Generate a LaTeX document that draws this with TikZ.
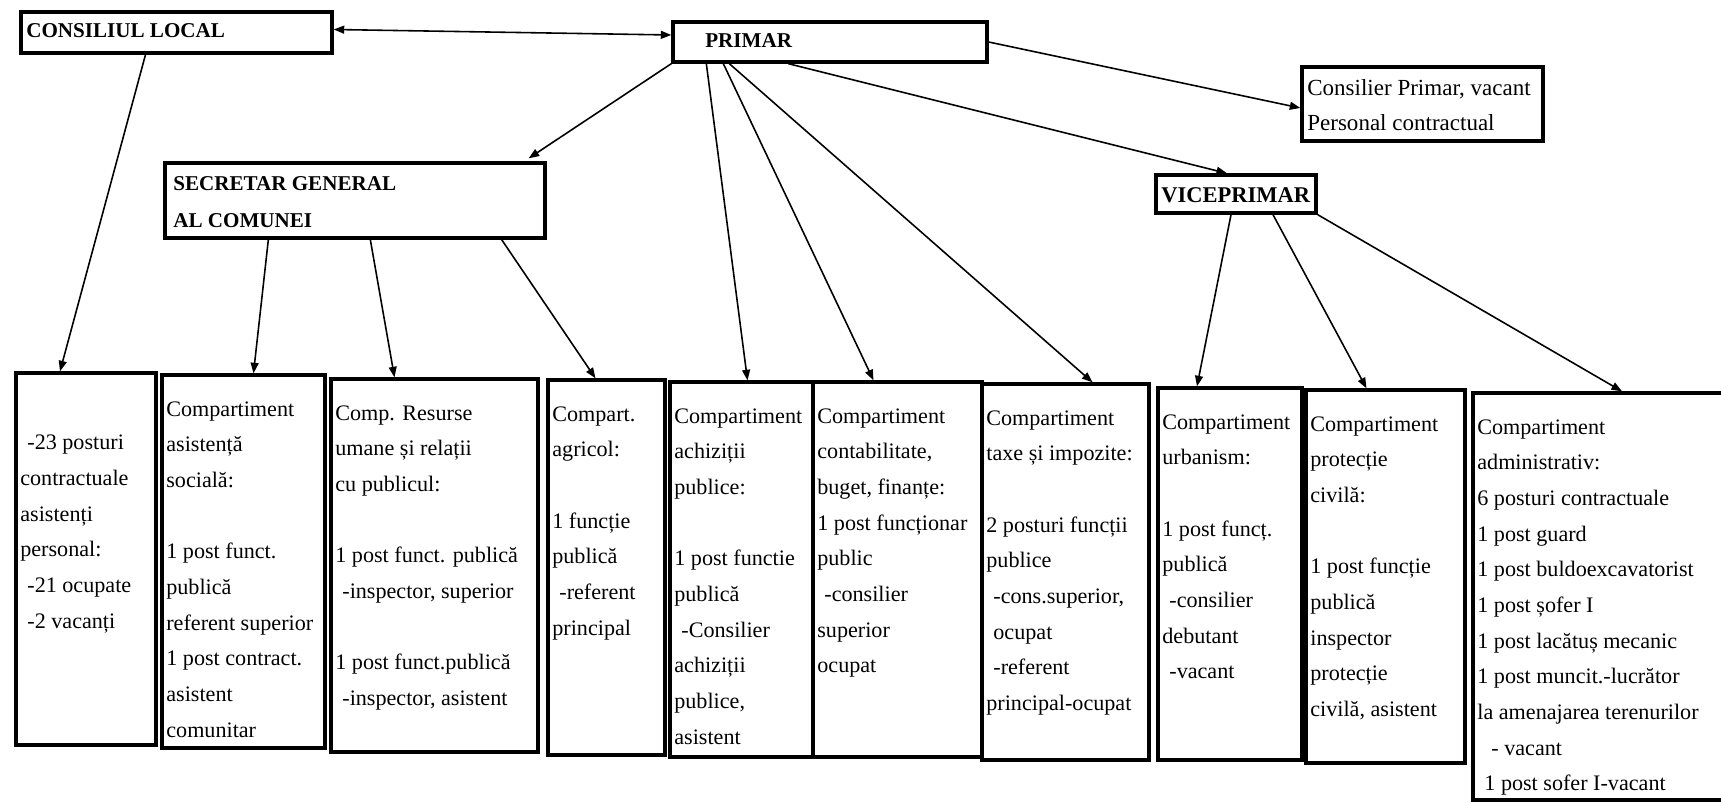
\documentclass[tikz,border=0pt]{standalone}
\usepackage{fontspec}
\setmainfont{Liberation Serif}
\usetikzlibrary{arrows.meta,calc,fit}
\newcommand{\blankline}{20.3pt}

\begin{document}
\begin{tikzpicture}[x=0.02cm,y=-0.02cm,>={Triangle[length=6pt,width=4.5pt]},
    boxframe/.style={draw,line width=1.9pt,inner sep=0pt},
    headtxt/.style={font=\fontsize{12}{21}\selectfont\bfseries,inner sep=0pt},
    bodytxt/.style={font=\fontsize{12.6}{20.3}\selectfont,inner sep=0pt,align=left,anchor=north west},
    link/.style={line width=0.9pt}]
    \clip (0,0) rectangle (1721,803);
    % conducere
    \node[boxframe,fit={(21,12) (332,53)}] (CL) {};
    \node[headtxt,anchor=base west] (CLt) at (26,38) {CONSILIUL LOCAL};
    \node[boxframe,fit={(673,22) (987,62)}] (PR) {};
    \node[headtxt,anchor=base west] (PRt) at (705,48) {PRIMAR};
    \node[boxframe,fit={(1302,67) (1543,141)}] (CP) {};
    \node[bodytxt,font=\fontsize{13.1}{20.3}\selectfont] (CPt) at (1307,70) {\strut Consilier Primar, vacant\\Personal contractual};
    \node[boxframe,fit={(165,163) (545,238)}] (SG) {};
    \node[headtxt,anchor=north west,align=left] (SGt) at (173,164) {\strut SECRETAR GENERAL\\AL COMUNEI};
    \node[boxframe,fit={(1156,175) (1316,213)}] (VP) {};
    \node[headtxt,anchor=base west,font=\fontsize{12.8}{21}\selectfont\bfseries] (VPt) at (1161,203) {VICEPRIMAR};
    % compartimente
    \node[boxframe,fit={(16,373) (156,745)}] (b1) {};
    \node[bodytxt] (b1t) at (20,389) {\strut\\\hspace*{4pt}-23 posturi\\contractuale\\asistenți\\personal:\\\hspace*{4pt}-21 ocupate\\\hspace*{4pt}-2 vacanți};
    \node[boxframe,fit={(162,375) (325,748)}] (b2) {};
    \node[bodytxt] (b2t) at (166,391) {\strut Compartiment\\asistență\\socială:\\[\blankline]1 post funct.\\publică\\referent superior\\1 post contract.\\asistent\\comunitar};
    \node[boxframe,fit={(331,379) (538,752)}] (b3) {};
    \node[bodytxt] (b3t) at (335,395) {\strut Comp. Resurse\\umane și relații\\cu publicul:\\[\blankline]1 post funct. publică\\\hspace*{4pt}-inspector, superior\\[\blankline]1 post funct.publică\\\hspace*{4pt}-inspector, asistent};
    \node[boxframe,fit={(548,380) (665,755)}] (b4) {};
    \node[bodytxt] (b4t) at (552,396) {\strut Compart.\\agricol:\\[\blankline]1 funcție\\publică\\\hspace*{4pt}-referent\\principal};
    \node[boxframe,fit={(670,382) (813,757)}] (b5) {};
    \node[bodytxt] (b5t) at (674,398) {\strut Compartiment\\achiziții\\publice:\\[\blankline]1 post functie\\publică\\\hspace*{4pt}-Consilier\\achiziții\\publice,\\asistent};
    \node[boxframe,fit={(813,382) (982,757)}] (b6) {};
    \node[bodytxt] (b6t) at (817,398) {\strut Compartiment\\contabilitate,\\buget, finanțe:\\1 post funcționar\\public\\\hspace*{4pt}-consilier\\superior\\ocupat};
    \node[boxframe,fit={(982,384) (1149,760)}] (b7) {};
    \node[bodytxt] (b7t) at (986,400) {\strut Compartiment\\taxe și impozite:\\[\blankline]2 posturi funcții\\publice\\\hspace*{4pt}-cons.superior,\\\hspace*{4pt}ocupat\\\hspace*{4pt}-referent\\principal-ocupat};
    \node[boxframe,fit={(1158,388) (1302,760)}] (b8) {};
    \node[bodytxt] (b8t) at (1162,404) {\strut Compartiment\\urbanism:\\[\blankline]1 post funcț.\\publică\\\hspace*{4pt}-consilier\\debutant\\\hspace*{4pt}-vacant};
    \node[boxframe,fit={(1306,390) (1465,763)}] (b9) {};
    \node[bodytxt] (b9t) at (1310,406) {\strut Compartiment\\protecție\\civilă:\\[\blankline]1 post funcție\\publică\\inspector\\protecție\\civilă, asistent};
    \node[boxframe,fit={(1473,393) (1735,800)}] (b10) {};
    \node[bodytxt] (b10t) at (1477,409) {\strut Compartiment\\administrativ:\\6 posturi contractuale\\1 post guard\\1 post buldoexcavatorist\\1 post șofer I\\1 post lacătuș mecanic\\1 post muncit.-lucrător\\la amenajarea terenurilor\\\hspace*{8pt}- vacant\\\hspace*{4pt}1 post sofer I-vacant};
    % legaturi
    \draw[link,<->] ($(CL.east)+(0,-3)$) -- ($(PR.west)+(0,-7)$);
    \draw[link,->] (PR.east) -- ($(CP.west)+(0,4)$);
    \draw[link,->] (PR.south west) -- ($(SG.north east)+(-18,-3)$);
    \draw[link,->] ($(PR.south west)+(117,0)$) -- ($(VP.north)+(-9,0)$);
    \draw[link,->] ($(PR.south west)+(35,0)$) -- ($(b5.north)+(6,0)$);
    \draw[link,->] ($(PR.south west)+(52,0)$) -- ($(b6.north)+(-24,0)$);
    \draw[link,->] ($(PR.south west)+(58,0)$) -- ($(b7.north)+(27,0)$);
    \draw[link,->] ($(CL.south)+(-31,0)$) -- ($(b1.north)+(-26,0)$);
    \draw[link,->] ($(SG.south west)+(105,0)$) -- ($(b2.north)+(10,0)$);
    \draw[link,->] ($(SG.south west)+(207,0)$) -- ($(b3.north)+(-40,0)$);
    \draw[link,->] ($(SG.south east)+(-45,0)$) -- ($(b4.north)+(-11,0)$);
    \draw[link,->] ($(VP.south)+(-5,0)$) -- ($(b8.north)+(-33,0)$);
    \draw[link,->] ($(VP.south)+(37,0)$) -- ($(b9.north)+(-19,0)$);
    \draw[link,->] (VP.south east) -- ($(b10.north)+(18,0)$);
  \end{tikzpicture}
\end{document}
